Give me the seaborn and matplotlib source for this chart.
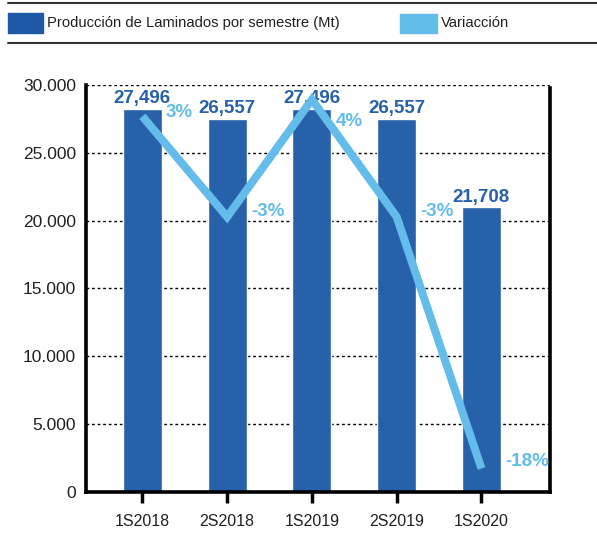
import numpy as np
import matplotlib
matplotlib.use('Agg')
import matplotlib.pyplot as plt
from matplotlib.patches import Rectangle
from matplotlib.lines import Line2D
import seaborn as sns

semestres = ['1S2018', '2S2018', '1S2019', '2S2019', '1S2020']
produccion = [28250, 27520, 28250, 27520, 20980]  # bar heights as drawn
etiquetas_produccion = ['27,496', '26,557', '27,496', '26,557', '21,708']
variacion = [3, -3, 4, -3, -18]
y_ticks = [0, 5000, 10000, 15000, 20000, 25000, 30000]
y_ticklabels = ['0', '5.000', '10.000', '15.000', '20.000', '25.000', '30.000']

AZUL = '#2761A9'
CELESTE = '#63BCEA'
TEXTO = '#231F20'

sns.set_style('white')
plt.rcParams['font.family'] = ['Liberation Sans', 'DejaVu Sans']

fig = plt.figure(figsize=(5.97, 5.37), dpi=100)
ax = fig.add_axes([0.144, 0.0838, 0.777, 0.758])

x = np.arange(len(semestres))
sns.barplot(x=semestres, y=produccion, color=AZUL, saturation=1, width=0.46,
            ax=ax, zorder=2)

ax.set_xlim(-0.665, 4.806)
ax.set_ylim(0, 30000)
ax.set_yticks(y_ticks)
ax.set_yticklabels(y_ticklabels)
ax.set_xlabel('')
ax.set_ylabel('')
ax.yaxis.grid(True, color='black', linestyle=(0, (2, 2)), linewidth=1, zorder=0)
ax.set_axisbelow(True)
ax.tick_params(axis='y', length=0, labelsize=12.5, labelcolor=TEXTO, pad=7)
ax.tick_params(axis='x', length=8, width=2.5, color='black', direction='out',
               labelsize=11.5, labelcolor=TEXTO, pad=8, bottom=True)
for side in ['left', 'bottom', 'right']:
    ax.spines[side].set_visible(True)
    ax.spines[side].set_color('black')
    ax.spines[side].set_linewidth(2.6)
ax.spines['top'].set_visible(False)
ax.spines['right'].set_bounds(0, 29800)

for i, (h, lab) in enumerate(zip(produccion, etiquetas_produccion)):
    ax.annotate(lab, xy=(i, h), xytext=(0, 1), textcoords='offset points',
                ha='center', va='bottom', fontsize=13.5, fontweight='bold',
                color=AZUL, zorder=3)

# variation line on a hidden secondary axis
ax2 = ax.twinx()
sns.lineplot(x=x, y=variacion, ax=ax2, color=CELESTE, linewidth=5.8)
ax2.lines[0].set_solid_joinstyle('miter')
ax2.lines[0].set_solid_capstyle('butt')
ax2.set_ylim(-19.4, 4.87)
ax2.set_xlim(-0.665, 4.806)
ax2.axis('off')

pct_dy = [3, 4, -16, 4, 5]
for i, v in enumerate(variacion):
    ax2.annotate(f'{v}%', xy=(i + 0.23, v), xytext=(3, pct_dy[i]),
                 textcoords='offset points', ha='left', va='center',
                 fontsize=13.5, fontweight='bold', color=CELESTE)

# legend band at the top
fig.add_artist(Line2D([8 / 597, 1], [1 - 3 / 537] * 2, color='#333333', lw=1.5))
fig.add_artist(Line2D([8 / 597, 1], [1 - 43 / 537] * 2, color='#333333', lw=1.5))
fig.add_artist(Rectangle((8 / 597, 1 - 33 / 537), 35 / 597, 20 / 537,
                         transform=fig.transFigure, color='#1F58A4'))
fig.text(47 / 597, 1 - 23 / 537, 'Producción de Laminados por semestre (Mt)',
         ha='left', va='center', fontsize=10.6, color=TEXTO)
fig.add_artist(Rectangle((400 / 597, 1 - 33 / 537), 37 / 597, 19 / 537,
                         transform=fig.transFigure, color=CELESTE))
fig.text(441 / 597, 1 - 23 / 537, 'Variacción',
         ha='left', va='center', fontsize=10.6, color=TEXTO)

fig.savefig('out.png', dpi=100)
